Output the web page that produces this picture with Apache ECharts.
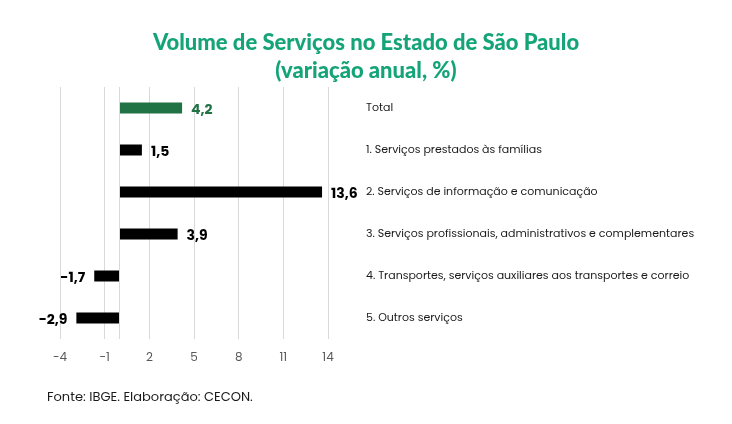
<!DOCTYPE html>
<html>
<head>
<meta charset="utf-8">
<script src="https://cdn.jsdelivr.net/npm/echarts@6/dist/echarts.min.js"></script>
<style>
  html, body { margin: 0; padding: 0; background: #fff; }
  #chart { width: 732px; height: 424px; }
</style>
</head>
<body>
<div id="chart"></div>
<script>
// categories, top to bottom
const categories = [
  'Total',
  '1. Serviços prestados às famílias',
  '2. Serviços de informação e comunicação',
  '3. Serviços profissionais, administrativos e complementares',
  '4. Transportes, serviços auxiliares aos transportes e correio',
  '5. Outros serviços'
]
const values = [4.2, 1.5, 13.6, 3.9, -1.7, -2.9]
const barColors = ['#217346', '#000000', '#000000', '#000000', '#000000', '#000000']

const chart = echarts.init(document.getElementById('chart'))
const font = "Poppins, Lato, 'Noto Sans', sans-serif"

const seriesData = values.map((v, i) => ({
  value: v,
  itemStyle: { color: barColors[i] },
  label: {
    position: v < 0 ? 'left' : 'right',
    color: barColors[i]
  }
}))

const option = {
  backgroundColor: '#fff',
  title: {
    text: 'Volume de Serviços no Estado de São Paulo\n(variação anual, %)',
    left: 'center',
    top: 24,
    textStyle: {
      color: '#14a478',
      fontFamily: "Lato, 'Noto Sans', sans-serif",
      fontWeight: 900,
      fontSize: 22,
      lineHeight: 28
    }
  },
  grid: { left: 60, right: 404, top: 87, bottom: 85 },
  xAxis: {
    type: 'value',
    min: -4,
    max: 14,
    interval: 3,
    axisLine: { show: false },
    axisTick: { show: false },
    splitLine: { lineStyle: { color: '#d9d9d9' } },
    axisLabel: { color: '#595959', fontSize: 12, fontFamily: font, margin: 13 }
  },
  yAxis: {
    type: 'category',
    data: categories,
    inverse: true,
    position: 'right',
    axisLine: { show: false },
    axisTick: { show: false },
    axisLabel: {
      align: 'left',
      margin: 38,
      color: '#1a1a1a',
      fontSize: 11,
      fontFamily: font
    }
  },
  series: [{
    type: 'bar',
    data: seriesData,
    barWidth: 11,
    label: {
      show: true,
      distance: 9,
      fontSize: 14,
      fontWeight: 'bold',
      fontFamily: font,
      offset: [0, 2],
      formatter: p => String(p.value).replace('.', ',')
    },
    markLine: {
      silent: true,
      symbol: 'none',
      label: { show: false },
      lineStyle: { color: '#d9d9d9', type: 'solid', width: 1 },
      data: [{ xAxis: 0 }]
    }
  }],
  graphic: [{
    type: 'text',
    left: 47,
    top: 391,
    style: {
      text: 'Fonte: IBGE. Elaboração: CECON.',
      fill: '#1a1a1a',
      font: '13px ' + font
    }
  }]
}

chart.setOption(option)
</script>
</body>
</html>
